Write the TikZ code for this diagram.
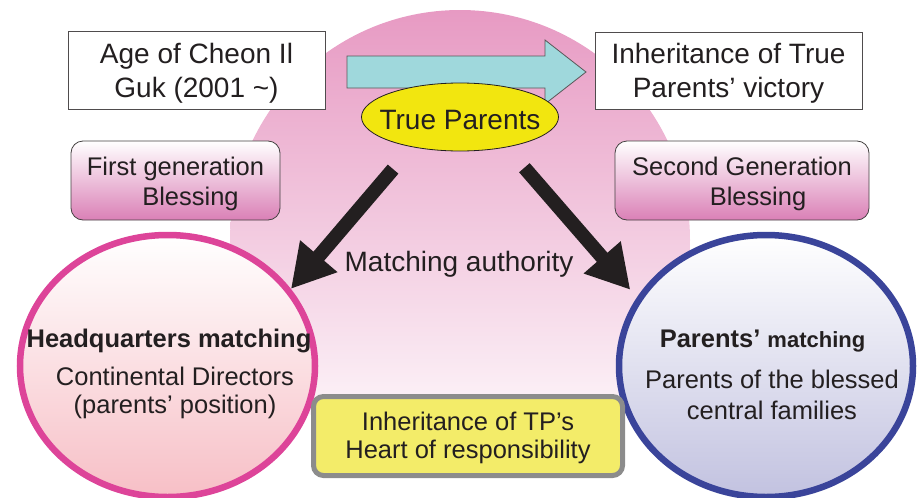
\documentclass[tikz,border=0pt]{standalone}
\usepackage{fontspec}
\setmainfont{Liberation Sans}
\usetikzlibrary{arrows.meta,shapes.geometric}

\definecolor{bgpink}{HTML}{E79AC3}
\definecolor{tealfill}{HTML}{9FD8DC}
\definecolor{tpyellow}{HTML}{F2E60F}
\definecolor{blesspink}{HTML}{DA80B6}
\definecolor{blessmid}{HTML}{F2C4DD}
\definecolor{hqline}{HTML}{DD4499}
\definecolor{hqfill}{HTML}{F7BFC6}
\definecolor{pmline}{HTML}{3A449A}
\definecolor{pmfill}{HTML}{C2C2E0}
\definecolor{heartfill}{HTML}{F3EC69}
\definecolor{heartline}{HTML}{8C8C8C}
\definecolor{ink}{HTML}{231F20}

\tikzset{
  bigfont/.style={font=\fontsize{28}{33.6}\selectfont},
  midfont/.style={font=\fontsize{25.5}{30}\selectfont},
  agebox/.style={draw=ink!80, fill=white, line width=0.8pt, bigfont, align=center,
    inner sep=0pt, text height=54pt, text depth=0pt},
  blessbox/.style={draw=ink!85, line width=0.8pt, rounded corners=12pt, top color=white,
    middle color=blessmid, bottom color=blesspink, midfont, align=center,
    inner sep=0pt, text height=49pt, text depth=0pt},
  matchring/.style={ellipse, line width=6.5pt, minimum width=295pt, minimum height=262pt,
    inner sep=0pt},
  bigarrow/.style={line width=14pt, draw=ink, -{Triangle[width=46pt,length=43pt]}},
}

\begin{document}
\begin{tikzpicture}[x=1pt,y=-1pt,text=ink]
\useasboundingbox (0,0) rectangle (924,498);
% background half disc
\shade[top color=bgpink, bottom color=white] (460,240) circle[radius=230pt];

% top boxes
\node[agebox, minimum width=257pt, minimum height=78pt] (age) at (196.5,70)
  {Age of Cheon Il\\Guk (2001 \textasciitilde)};
\node[agebox, minimum width=267pt, minimum height=77pt] (inh) at (728.5,70.5)
  {Inheritance of True\\Parents' victory};

% wide arrow between them
\filldraw[fill=tealfill, draw=ink!75, line width=0.8pt] (347,56) -- (545,56) -- (545,40)
  -- (586,72) -- (545,104) -- (545,88) -- (347,88) -- cycle;

\node[ellipse, draw=ink, line width=0.8pt, fill=tpyellow, minimum width=197pt,
  minimum height=68pt, inner sep=0pt] (tp) at (460,117) {};
\node[bigfont, inner sep=0pt, text height=24pt, text depth=0pt] (tptext) at (tp) {True Parents};

% blessing boxes
\node[blessbox, minimum width=209pt, minimum height=79pt] (fgb) at (175.5,180.5)
  {First generation\\\hspace*{30pt}Blessing};
\node[blessbox, minimum width=254pt, minimum height=79pt] (sgb) at (742,180.5)
  {Second Generation\\\hspace*{32pt}Blessing};

% matching circles
\node[matchring, draw=hqline, top color=white, bottom color=hqfill] (hq) at (167.5,366) {};
\node[matchring, draw=pmline, top color=white, bottom color=pmfill, minimum width=294pt]
  (pm) at (766,366) {};
\node[font=\fontsize{25.5}{28.3}\selectfont, align=center, inner sep=0pt, text height=95pt,
  text depth=0pt] (hqtext) at (169,366)
  {\textbf{Headquarters matching}\\[9pt]\hspace*{12pt}Continental Directors\\
   \hspace*{12pt}(parents' position)};
\node[font=\fontsize{25.5}{31}\selectfont, align=center, inner sep=0pt, text height=107pt,
  text depth=0pt] (pmtext) at (772,366)
  {\textbf{Parents' {\fontsize{22}{26}\selectfont matching}}\hspace*{19pt}\\[9.6pt]
   Parents of the blessed\\central families};

% authority arrows
\draw[bigarrow, shorten <=29pt] (tp.212) -- (hq.32);
\draw[bigarrow, shorten <=27pt, shorten >=10pt] (tp.327) -- (pm.152);
\node[bigfont, inner sep=0pt, text height=20pt, text depth=0pt] (ma) at (459,261)
  {Matching authority};

\node[draw=heartline, line width=5pt, fill=heartfill, rounded corners=10pt,
  minimum width=309pt, minimum height=79pt, font=\fontsize{25.5}{28}\selectfont,
  align=center, inner sep=0pt, text height=44pt, text depth=0pt] (heart) at (468,436)
  {Inheritance of TP's\\Heart of responsibility};
\end{tikzpicture}
\end{document}
